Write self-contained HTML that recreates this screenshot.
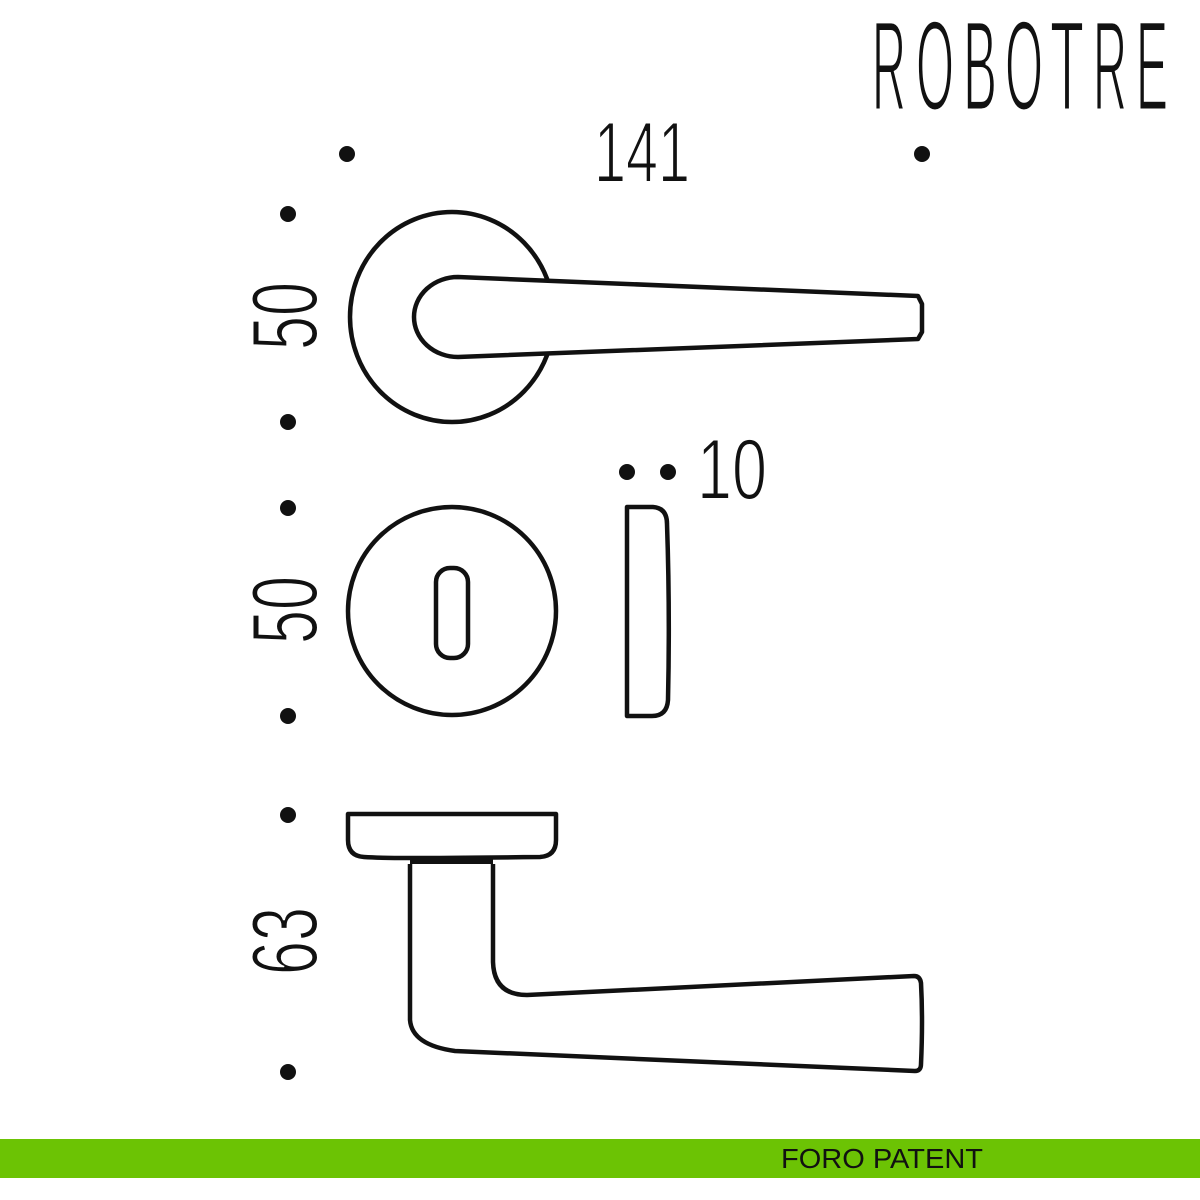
<!DOCTYPE html>
<html><head><meta charset="utf-8"><style>html,body{margin:0;padding:0;background:#fff}svg{display:block}</style></head>
<body>
<svg width="1200" height="1200" viewBox="0 0 1200 1200" xmlns="http://www.w3.org/2000/svg">
<rect width="1200" height="1200" fill="#fff"/>
<g font-family="Liberation Sans, sans-serif" fill="#111" stroke="#fff" stroke-width="3">
<g font-size="128">
<text x="872" y="110" textLength="34" lengthAdjust="spacingAndGlyphs">R</text>
<text x="916" y="110" textLength="38" lengthAdjust="spacingAndGlyphs">O</text>
<text x="963" y="110" textLength="34" lengthAdjust="spacingAndGlyphs">B</text>
<text x="1005" y="110" textLength="38" lengthAdjust="spacingAndGlyphs">O</text>
<text x="1050" y="110" textLength="34" lengthAdjust="spacingAndGlyphs">T</text>
<text x="1093" y="110" textLength="34" lengthAdjust="spacingAndGlyphs">R</text>
<text x="1136" y="110" textLength="32" lengthAdjust="spacingAndGlyphs">E</text>
</g>
<text x="594" y="182" font-size="86" textLength="96" lengthAdjust="spacingAndGlyphs" stroke-width="2">141</text>
<text x="697" y="499" font-size="86" textLength="70" lengthAdjust="spacingAndGlyphs" stroke-width="2">10</text>
<text transform="translate(317,350) rotate(-90)" font-size="94" textLength="68" lengthAdjust="spacingAndGlyphs" stroke-width="2">50</text>
<text transform="translate(317,644) rotate(-90)" font-size="94" textLength="68" lengthAdjust="spacingAndGlyphs" stroke-width="2">50</text>
<text transform="translate(317,975) rotate(-90)" font-size="94" textLength="68" lengthAdjust="spacingAndGlyphs" stroke-width="2">63</text>
</g>
<g fill="#111">
<circle cx="347" cy="154" r="8"/><circle cx="922" cy="154" r="8"/>
<circle cx="288" cy="214" r="8"/><circle cx="288" cy="422" r="8"/>
<circle cx="288" cy="508" r="8"/><circle cx="288" cy="716" r="8"/>
<circle cx="288" cy="815" r="8"/><circle cx="288" cy="1072" r="8"/>
<circle cx="627" cy="472" r="8"/><circle cx="668" cy="472" r="8"/>
</g>
<g fill="none" stroke="#111" stroke-width="4.5" stroke-linejoin="round">
<ellipse cx="452" cy="317" rx="102" ry="105"/>
<path d="M458 277 L918 296 L922 304 L922 332 L918 339 L458 357 A44 40 0 0 1 458 277 Z" fill="#fff"/>
<circle cx="452" cy="611" r="104"/>
<rect x="436" y="568" width="32" height="90" rx="14"/>
<path d="M627 507 L653 507 Q667 508 667 524 Q670 610 668 700 Q667 716 652 716 L627 716 Z"/>
<path d="M348 814 L556 814 L556 840 Q556 856 540 857 Q452 858 410 858 Q380 858 364 857 Q348 856 348 840 Z"/>
<rect x="410" y="858" width="83" height="6" fill="#111" stroke="none"/>
<path d="M410 864 L410 1020 Q412 1045 455 1051 L915 1071 Q921 1071 921 1064 Q923 1020 921 983 Q920 976 914 976 L527 995 Q494 995 493 962 L493 864"/>
</g>
<rect x="0" y="1139" width="1200" height="39" fill="#6cc304"/>
<text x="781" y="1168" font-family="Liberation Sans, sans-serif" font-size="28" fill="#111" textLength="202" lengthAdjust="spacingAndGlyphs">FORO PATENT</text>
</svg>
</body></html>
